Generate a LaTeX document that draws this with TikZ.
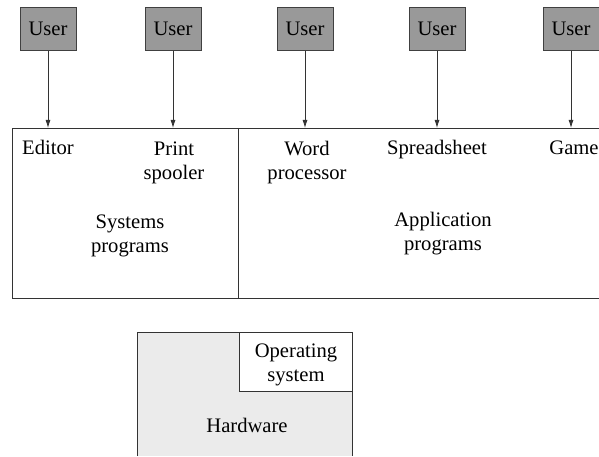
\documentclass[tikz,border=0pt]{standalone}
\usepackage{fontspec}
\setmainfont{Liberation Serif}
\usetikzlibrary{arrows.meta,positioning}

\tikzset{
  user/.style={draw=black!75, fill=black!40, line width=0.8pt,
    minimum width=1.68cm, minimum height=1.27cm, inner sep=0pt,
    font=\fontsize{17.6}{20.4}\selectfont},
  lbl/.style={align=center, anchor=base, inner sep=0pt,
    font=\fontsize{17.6}{20.4}\selectfont},
  box/.style={draw=black!80, line width=0.7pt},
}

\begin{document}
\begin{tikzpicture}[x=0.03cm, y=-0.03cm, >={Latex[length=2.4mm,width=1.5mm]}]
  \useasboundingbox (0,0) rectangle (599,456);

  % users
  \node[user] (u1) at (48,29)  {User};
  \node[user] (u2) at (173,29) {User};
  \node[user] (u3) at (305,29) {User};
  \node[user] (u4) at (437,29) {User};
  \node[user] (u5) at (571,29) {User};

  % programs (base = last line)
  \coordinate (top) at (12,128);
  \draw[box] (599,128) -- (top) -- (12,298) -- (599,298);
  \draw[box] (238,128) -- (238,298);

  \node[lbl] (ed)  at (48,155)  {Editor};
  \node[lbl] (ps)  at (174,179) {Print\\spooler};
  \node[lbl] (wp)  at (307,179) {Word\\processor};
  \node[lbl] (ss)  at (437,155) {Spreadsheet};
  \node[lbl] (gm)  at (574,155) {Game};
  \node[lbl] (sys) at (130,252) {Systems\\programs};
  \node[lbl] (app) at (443,250) {Application\\programs};

  \draw[->, box] (u1) -- (u1 |- top);
  \draw[->, box] (u2) -- (u2 |- top);
  \draw[->, box] (u3) -- (u3 |- top);
  \draw[->, box] (u4) -- (u4 |- top);
  \draw[->, box] (u5) -- (u5 |- top);

  % hardware
  \draw[box, fill=black!8] (137,456) -- (137,332) -- (352,332) -- (352,456);
  \draw[box, fill=white] (239,332) rectangle (352,391);
  \node[lbl] (os) at (296,381) {Operating\\system};
  \node[lbl] (hw) at (247,432) {Hardware};
\end{tikzpicture}
\end{document}
